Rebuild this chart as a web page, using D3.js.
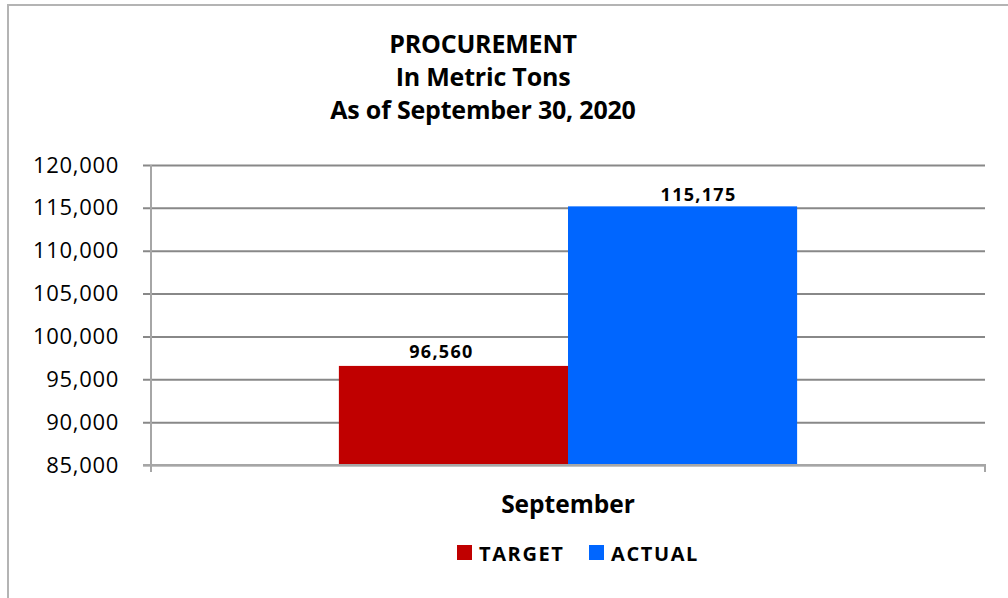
<!DOCTYPE html>
<html>
<head>
<meta charset="utf-8">
<script src="https://cdn.jsdelivr.net/npm/d3@7"></script>
<style>
  body { margin: 0; background: #fff; }
  svg { display: block; font-family: "Open Sans", "DejaVu Sans", sans-serif; }
</style>
</head>
<body>
<svg id="chart" width="1008" height="598"></svg>
<script>
// data
const titleLines = ["PROCUREMENT", "In Metric Tons", "As of September 30, 2020"];
const categories = ["September"];
const seriesNames = ["TARGET", "ACTUAL"];
const seriesColors = ["#c00000", "#0066ff"];
const values = [96560, 115175];
const yTicks = [85000, 90000, 95000, 100000, 105000, 110000, 115000, 120000];

const svg = d3.select("#chart"),
      width = +svg.attr("width"),
      height = +svg.attr("height"),
      margin = {top: 165, right: 23, bottom: 133, left: 151};

// outer frame
svg.append("path")
    .attr("d", `M8,${height} L8,5 L${width},5`)
    .attr("fill", "none")
    .attr("stroke", "#b4b4b4")
    .attr("stroke-width", 2);

const x0 = d3.scaleBand().domain(categories).range([margin.left, width - margin.right]).paddingInner(0).paddingOuter(0);
const x1 = d3.scaleBand().domain(seriesNames).range([0, x0.bandwidth()]).paddingOuter(0.82).paddingInner(0);
const y = d3.scaleLinear().domain([85000, 120000]).range([height - margin.bottom, margin.top]);

const fmt = d3.format(",");

// y axis with gridlines
const yAxis = d3.axisLeft(y)
    .tickValues(yTicks)
    .tickFormat(fmt)
    .tickSize(-(width - margin.left - margin.right))
    .tickPadding(32);

const gy = svg.append("g")
    .attr("transform", `translate(${margin.left},0)`)
    .call(yAxis);
gy.select(".domain").remove();
gy.selectAll(".tick line")
    .attr("x1", -8)
    .attr("stroke", "#888")
    .attr("stroke-width", 2);
gy.selectAll(".tick text")
    .attr("font-size", 22)
    .attr("letter-spacing", 0.7)
    .attr("fill", "#000")
    .attr("font-family", "'Open Sans', sans-serif");

// title
svg.append("g").selectAll("text")
    .data(titleLines)
    .join("text")
    .attr("x", 483)
    .attr("y", (d, i) => 53 + i * 33)
    .attr("text-anchor", "middle")
    .attr("font-size", 25)
    .attr("font-weight", "bold")
    .attr("letter-spacing", -0.2)
    .attr("fill", "#000")
    .text(d => d);

// bars
const labelShift = [-12, 16];
const groups = svg.append("g").selectAll("g")
    .data(categories)
    .join("g")
    .attr("transform", d => `translate(${x0(d)},0)`);

groups.selectAll("rect")
    .data(() => seriesNames.map((s, i) => ({s, v: values[i], c: seriesColors[i]})))
    .join("rect")
    .attr("x", d => x1(d.s))
    .attr("y", d => y(d.v))
    .attr("width", x1.bandwidth())
    .attr("height", d => y(85000) - y(d.v))
    .attr("fill", d => d.c);

groups.selectAll("text.val")
    .data(() => seriesNames.map((s, i) => ({s, v: values[i], i})))
    .join("text")
    .attr("class", "val")
    .attr("x", d => x1(d.s) + x1.bandwidth() / 2 + labelShift[d.i])
    .attr("y", d => y(d.v) - (d.i ? 5 : 8))
    .attr("text-anchor", "middle")
    .attr("font-size", 18)
    .attr("font-weight", "bold")
    .attr("letter-spacing", 1.3)
    .attr("fill", "#000")
    .text(d => fmt(d.v));

// axes lines
const x0p = margin.left, x1p = width - margin.right, yb = y(85000);
svg.append("path")
    .attr("d", `M${x0p},${margin.top} L${x0p},${yb + 7} M${x0p - 8},${yb} L${x1p},${yb} L${x1p},${yb + 7}`)
    .attr("fill", "none")
    .attr("stroke", "#a6a6a6")
    .attr("stroke-width", 2);

// category label
svg.append("text")
    .attr("x", x0(categories[0]) + x0.bandwidth() / 2)
    .attr("y", 513)
    .attr("text-anchor", "middle")
    .attr("font-size", 24.5)
    .attr("font-weight", "bold")
    .attr("fill", "#000")
    .text(categories[0]);

// legend
const legendX = [457, 589];
const legend = svg.append("g").selectAll("g")
    .data(seriesNames)
    .join("g")
    .attr("transform", (d, i) => `translate(${legendX[i]},545)`);
legend.append("rect")
    .attr("width", 15)
    .attr("height", 15)
    .attr("fill", (d, i) => seriesColors[i]);
legend.append("text")
    .attr("x", 22)
    .attr("y", 15.5)
    .attr("font-size", 20)
    .attr("font-weight", "bold")
    .attr("letter-spacing", 1.6)
    .attr("fill", "#000")
    .text(d => d);
</script>
</body>
</html>
